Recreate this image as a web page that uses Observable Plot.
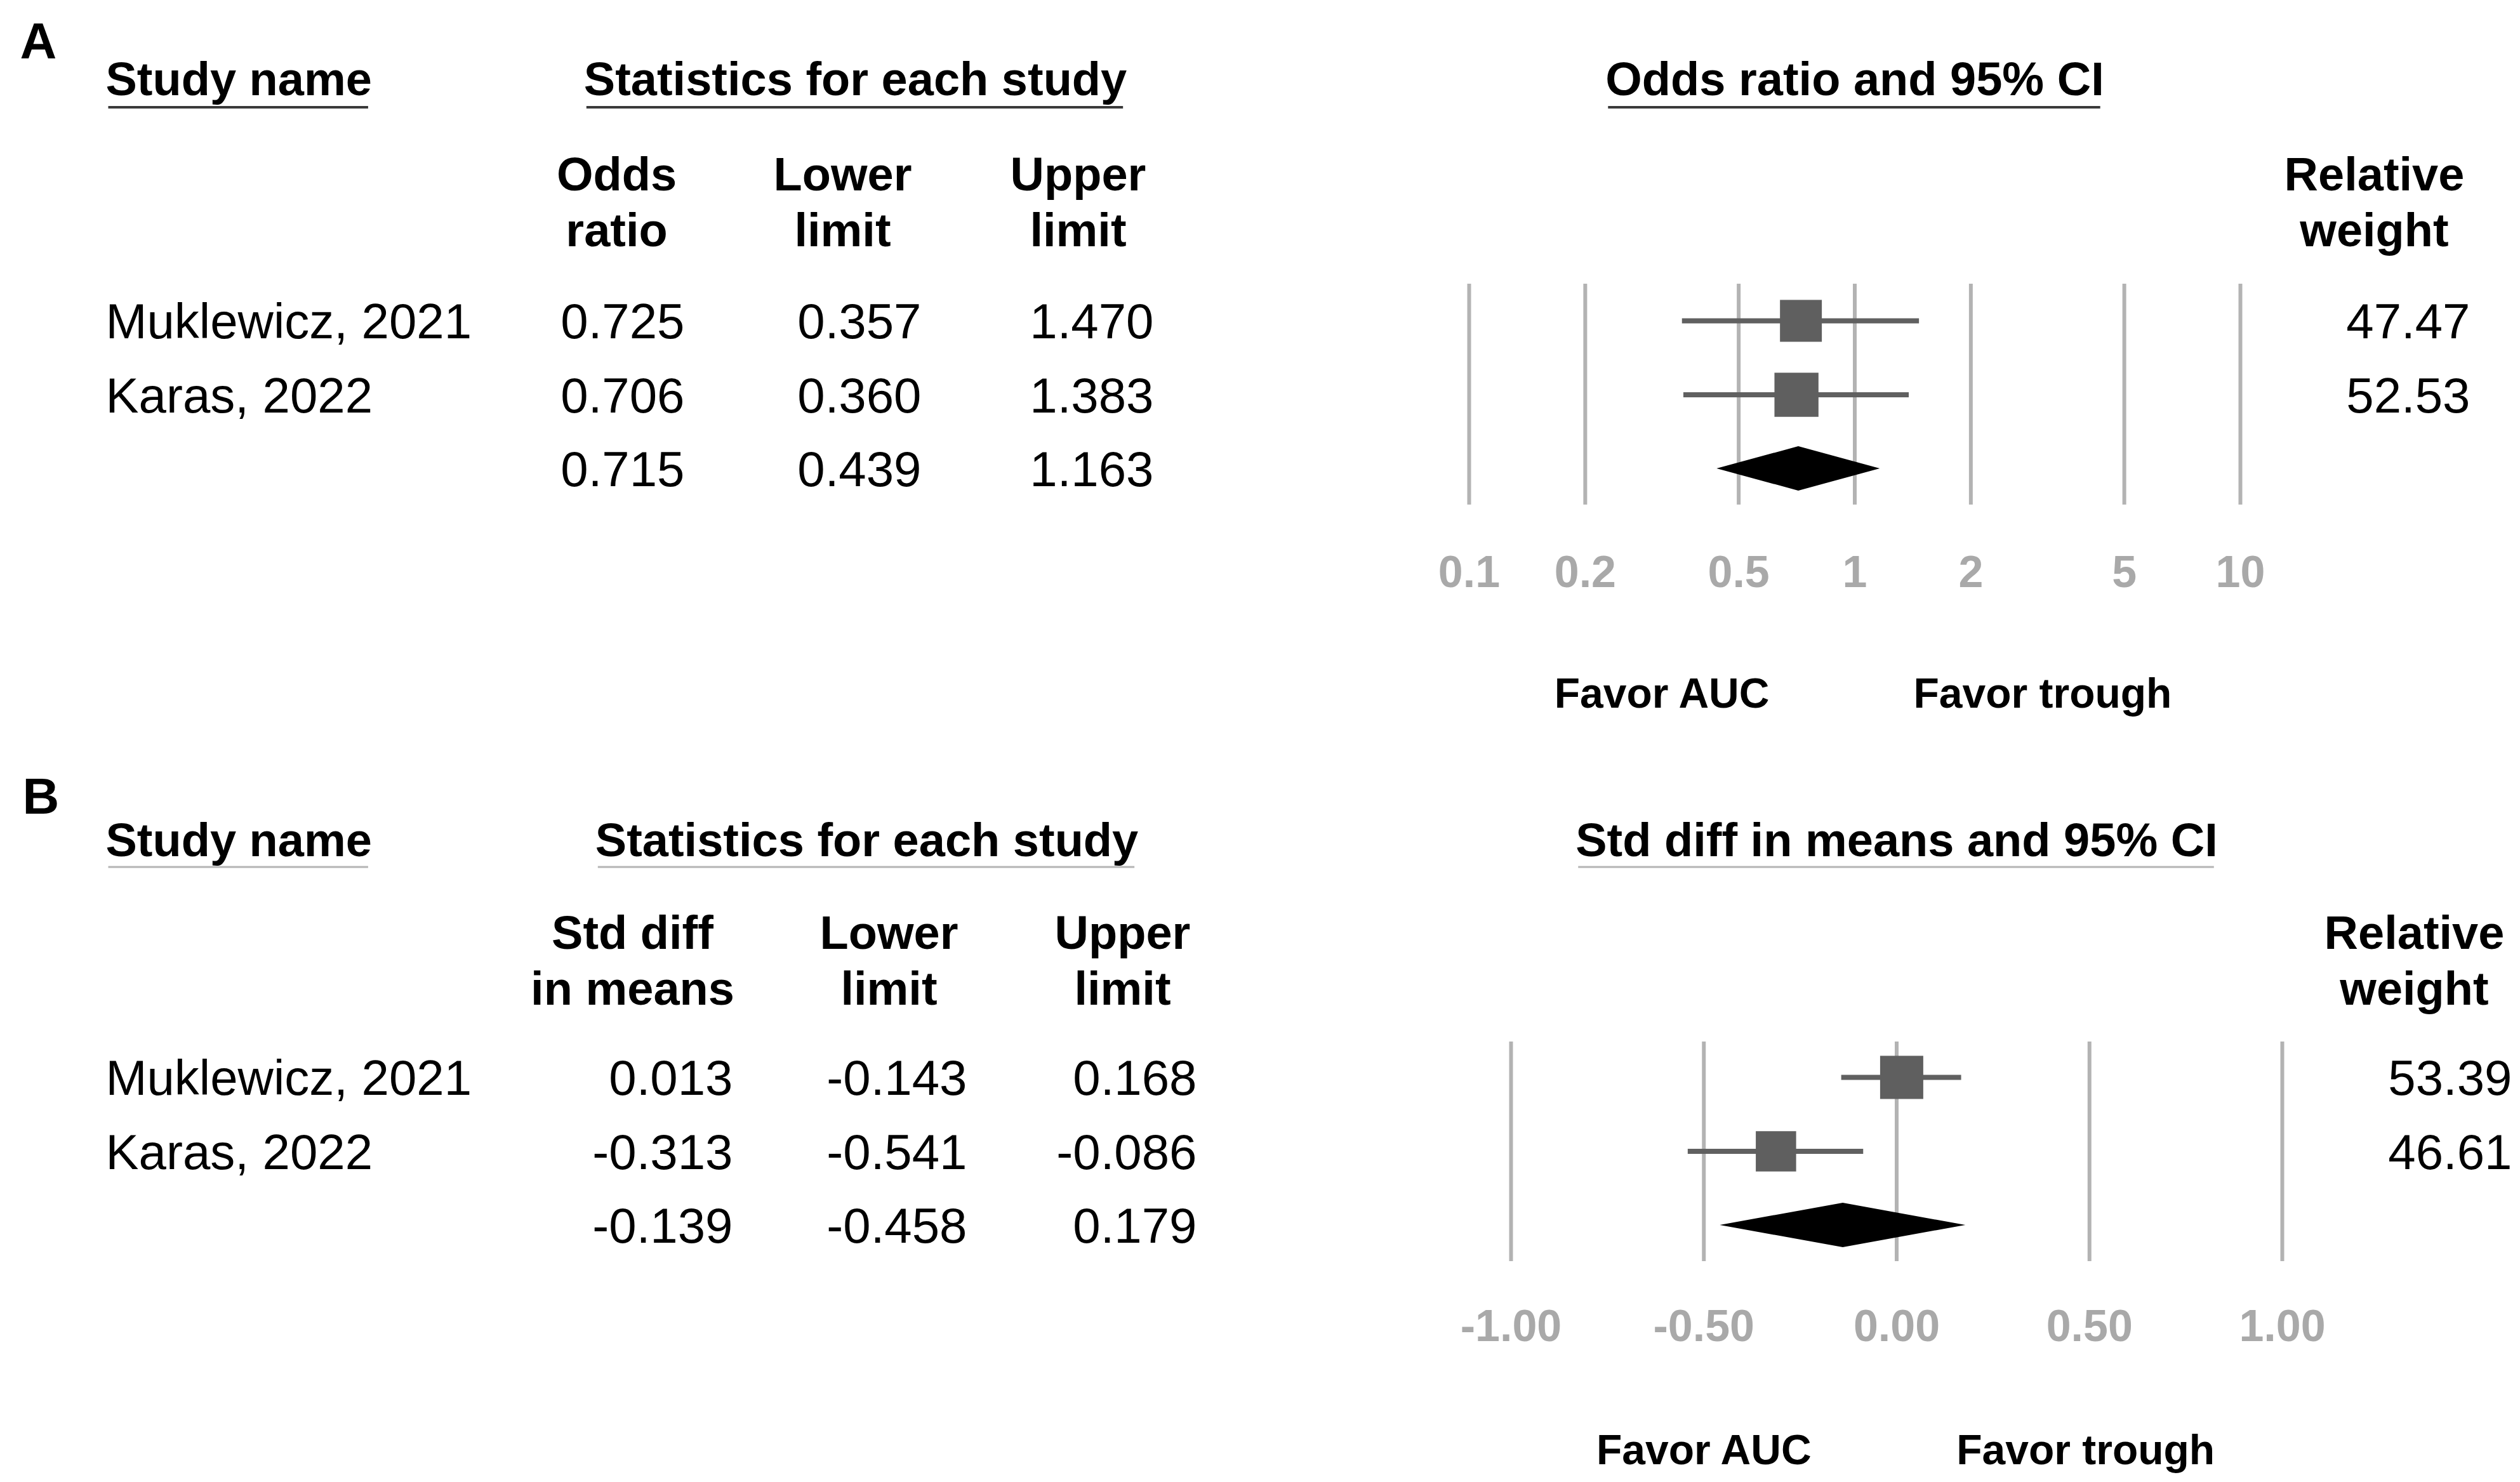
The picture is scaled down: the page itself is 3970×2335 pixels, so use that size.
<!DOCTYPE html>
<html>
<head>
<meta charset="utf-8">
<script src="https://cdn.jsdelivr.net/npm/d3@7"></script>
<script src="https://cdn.jsdelivr.net/npm/@observablehq/plot@0.6"></script>
<style>
  html, body { margin: 0; padding: 0; background: #fff; }
  #chart svg { display: block; }
</style>
</head>
<body>
<div id="chart"></div>
<script>
// ---------------- DATA ----------------
const studies = ["Muklewicz, 2021", "Karas, 2022"];

// Panel A: odds ratios
const orEst = [0.725, 0.706];
const orLower = [0.357, 0.360];
const orUpper = [1.470, 1.383];
const orWeight = [47.47, 52.53];
const orSummary = [0.715, 0.439, 1.163]; // estimate, lower, upper
const orTicks = [0.1, 0.2, 0.5, 1, 2, 5, 10];
const orTickLabels = ["0.1", "0.2", "0.5", "1", "2", "5", "10"];
const orFavorAt = [0.316, 3.07];
const orColumnHeaders = ["Odds\nratio", "Lower\nlimit", "Upper\nlimit"];
const orForestTitle = "Odds ratio and 95% CI";

// Panel B: standardized difference in means
const smdEst = [0.013, -0.313];
const smdLower = [-0.143, -0.541];
const smdUpper = [0.168, -0.086];
const smdWeight = [53.39, 46.61];
const smdSummary = [-0.139, -0.458, 0.179];
const smdTicks = [-1, -0.5, 0, 0.5, 1];
const smdTickLabels = ["-1.00", "-0.50", "0.00", "0.50", "1.00"];
const smdFavorAt = [-0.5, 0.49];
const smdColumnHeaders = ["Std diff\nin means", "Lower\nlimit", "Upper\nlimit"];
const smdForestTitle = "Std diff in means and 95% CI";

const studyTitle = "Study name";
const statsTitle = "Statistics for each study";
const weightHeader = "Relative\nweight";
const favorLabels = ["Favor AUC", "Favor trough"];

// ---------------- LAYOUT (pixels) ----------------
const FONT = "'Liberation Sans', Arial, Helvetica, sans-serif";
const layoutA = {
  height: 1193, letterX: 31, letterY: 66, titleY: 126, underlineY: 169,
  underlineColor: "#3a3a3a", underlineWidth: 4, headerY: 315, nameX: 166,
  colRight: [1078, 1451, 1817], colHeaderCenter: [971, 1327, 1698],
  statsCenter: 1347, weightRight: 3891, weightHeaderCenter: 3740,
  rowRange: [505, 738], gridExtTop: 58, gridExtBottom: 57,
  tickDy: 164, favorDy: 355, rMax: 54, xRange: [2314, 3529]
};
const layoutB = {
  height: 1142, letterX: 35, letterY: 63, titleY: 132, underlineY: 173,
  underlineColor: "#b4b4b4", underlineWidth: 3, headerY: 317, nameX: 166,
  colRight: [1154, 1523, 1885], colHeaderCenter: [996, 1400, 1768],
  statsCenter: 1365, weightRight: 3957, weightHeaderCenter: 3803,
  rowRange: [504, 737], gridExtTop: 56, gridExtBottom: 57,
  tickDy: 160, favorDy: 355, rMax: 52.5, xRange: [2380, 3595]
};

function forestPanel(cfg, L) {
  const rows = cfg.est.map((e, i) => ({
    row: i, name: studies[i], est: e, lower: cfg.lower[i], upper: cfg.upper[i], weight: cfg.weight[i]
  }));
  const summary = {row: 2, est: cfg.summary[0], lower: cfg.summary[1], upper: cfg.summary[2]};
  const tableRows = [...rows, summary];
  const half = 0.3; // diamond half-height in row units
  const diamond = [
    {x: summary.lower, y1: summary.row, y2: summary.row},
    {x: summary.est, y1: summary.row - half, y2: summary.row + half},
    {x: summary.upper, y1: summary.row, y2: summary.row}
  ];
  const ticks = cfg.ticks.map((v, i) => ({v, label: cfg.tickLabels[i]}));
  const bold = {fontWeight: "bold", fontFamily: FONT, fill: "black", lineAnchor: "middle"};
  const reg = {fontFamily: FONT, fill: "black", fontSize: 78, lineAnchor: "middle"};
  const cols = ["est", "lower", "upper"];

  const marks = [
    // grid
    Plot.ruleX(ticks, {x: "v", y1: 0, y2: 2, insetTop: -L.gridExtTop, insetBottom: -L.gridExtBottom,
      stroke: "#b3b3b3", strokeWidth: 6}),
    // CI lines
    Plot.ruleY(rows, {y: "row", x1: "lower", x2: "upper", stroke: "#606060", strokeWidth: 8}),
    // squares
    Plot.dot(rows, {x: "est", y: "row", r: "weight", symbol: "square", fill: "#5f5f5f", stroke: null}),
    // summary diamond
    Plot.areaY(diamond, {x: "x", y1: "y1", y2: "y2", fill: "black", curve: "linear"}),
    // tick labels
    Plot.text(ticks, {x: "v", y: 2, dy: L.tickDy, text: "label", fontSize: 70, fontWeight: "bold",
      fontFamily: FONT, fill: "#a9a9a9", lineAnchor: "middle"}),
    // favour labels
    Plot.text(favorLabels, {x: (d, i) => cfg.favorAt[i], y: 2, dy: L.favorDy, text: d => d,
      fontSize: 66, ...bold}),
    // titles
    Plot.text([cfg.letter], {frameAnchor: "top-left", dx: L.letterX, dy: L.letterY, text: d => d,
      textAnchor: "start", fontSize: 80, ...bold}),
    Plot.text([studyTitle], {frameAnchor: "top-left", dx: L.nameX, dy: L.titleY, text: d => d,
      textAnchor: "start", fontSize: 74, ...bold}),
    Plot.text([statsTitle], {frameAnchor: "top-left", dx: L.statsCenter, dy: L.titleY, text: d => d,
      textAnchor: "middle", fontSize: 74, ...bold}),
    Plot.text([cfg.forestTitle], {x: cfg.nullValue, frameAnchor: "top", dy: L.titleY, text: d => d,
      textAnchor: "middle", fontSize: 74, ...bold}),
    // column headers
    ...cfg.colHeaders.map((h, i) => Plot.text([h], {frameAnchor: "top-left", dx: L.colHeaderCenter[i],
      dy: L.headerY, text: d => d, textAnchor: "middle", lineHeight: 1.19, fontSize: 74, ...bold})),
    Plot.text([weightHeader], {frameAnchor: "top-left", dx: L.weightHeaderCenter, dy: L.headerY,
      text: d => d, textAnchor: "middle", lineHeight: 1.19, fontSize: 74, ...bold}),
    // table body
    Plot.text(rows, {y: "row", text: "name", frameAnchor: "left", dx: L.nameX, dy: 3,
      textAnchor: "start", ...reg}),
    ...cols.map((c, i) => Plot.text(tableRows, {y: "row", text: d => d[c].toFixed(3), frameAnchor: "left",
      dx: L.colRight[i], dy: 3, textAnchor: "end", ...reg})),
    Plot.text(rows, {y: "row", text: d => d.weight.toFixed(2), frameAnchor: "left", dx: L.weightRight,
      dy: 3, textAnchor: "end", ...reg})
  ];

  return Plot.plot({
    width: 3970,
    height: L.height,
    margin: 0,
    x: {...cfg.x, range: L.xRange, axis: null},
    y: {domain: [0, 2], range: L.rowRange, axis: null},
    r: {type: "sqrt", domain: [0, 100], range: [0, L.rMax]},
    style: {fontFamily: FONT, background: "white", overflow: "visible"},
    marks
  });
}

function underline(svg, L) {
  const titles = [studyTitle, statsTitle, orForestTitle, smdForestTitle];
  const sb = svg.getBoundingClientRect();
  svg.querySelectorAll("text").forEach(t => {
    if (titles.includes(t.textContent)) {
      const r = t.getBoundingClientRect();
      const line = document.createElementNS("http://www.w3.org/2000/svg", "line");
      line.setAttribute("x1", r.left - sb.left + 4);
      line.setAttribute("x2", r.right - sb.left - 6);
      line.setAttribute("y1", L.underlineY);
      line.setAttribute("y2", L.underlineY);
      line.setAttribute("stroke", L.underlineColor);
      line.setAttribute("stroke-width", L.underlineWidth);
      svg.appendChild(line);
    }
  });
}

const chart = document.getElementById("chart");
const svgA = forestPanel({
  letter: "A", est: orEst, lower: orLower, upper: orUpper, weight: orWeight, summary: orSummary,
  ticks: orTicks, tickLabels: orTickLabels, favorAt: orFavorAt, colHeaders: orColumnHeaders,
  forestTitle: orForestTitle, nullValue: 1, x: {type: "log", domain: [0.1, 10]}
}, layoutA);
const svgB = forestPanel({
  letter: "B", est: smdEst, lower: smdLower, upper: smdUpper, weight: smdWeight, summary: smdSummary,
  ticks: smdTicks, tickLabels: smdTickLabels, favorAt: smdFavorAt, colHeaders: smdColumnHeaders,
  forestTitle: smdForestTitle, nullValue: 0, x: {type: "linear", domain: [-1, 1]}
}, layoutB);
chart.appendChild(svgA);
chart.appendChild(svgB);
underline(svgA, layoutA);
underline(svgB, layoutB);
</script>
</body>
</html>
